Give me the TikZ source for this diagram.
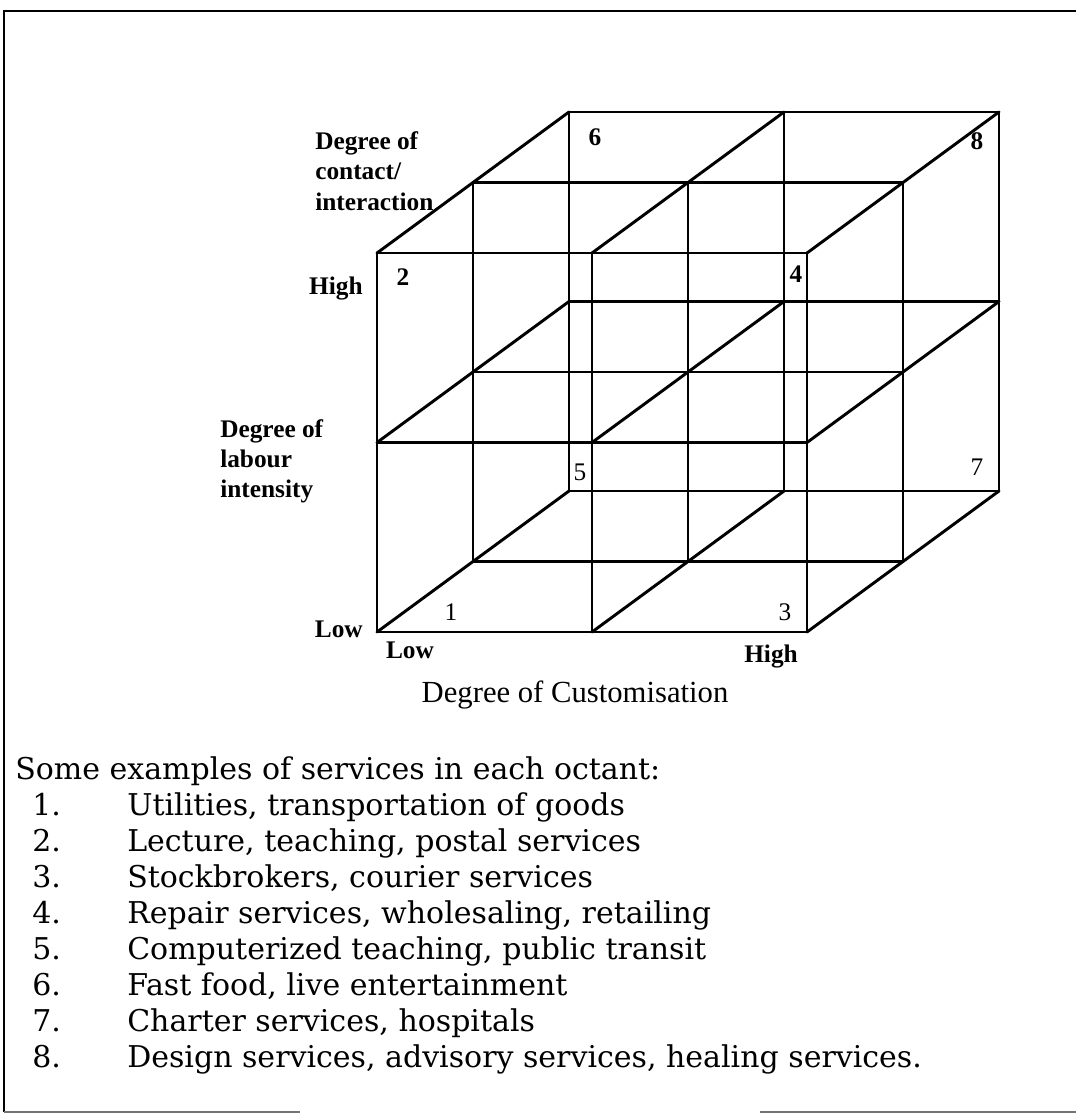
\documentclass[tikz,border=0pt]{standalone}
\usepackage{fontspec}
\setmainfont{Liberation Serif}
\newfontfamily\listfont{DejaVu Serif}
\begin{document}
\begin{tikzpicture}[x=0.75pt,y=-0.75pt,
  cubeline/.style={line width=2.2pt, line cap=round},
  framel/.style={line width=1.5pt},
  framefaint/.style={line width=1.2pt, black!55},
  axlbl/.style={font=\fontsize{19}{23}\selectfont\bfseries, inner sep=0pt},
  octb/.style={font=\fontsize{19}{23}\selectfont\bfseries, inner sep=0pt, anchor=base},
  octr/.style={font=\fontsize{19}{23}\selectfont, inner sep=0pt, anchor=base},
  custlbl/.style={font=\fontsize{23}{28}\selectfont, inner sep=0pt, anchor=base},
  listtxt/.style={font=\listfont\fontsize{22.5}{27}\selectfont, inner sep=0pt, anchor=base west},
]
\useasboundingbox (0,0) rectangle (1076,1119);

% frame
\coordinate (fbl) at (4,1112);
\coordinate (ftl) at (4,11);
\coordinate (ftr) at (1076,11);
\coordinate (fb1) at (300,1112);
\coordinate (fb2) at (760,1112);
\coordinate (fbr) at (1076,1112);
\draw[framel] (fbl) -- (ftl) -- (ftr);
\draw[framefaint] (fbl) -- (fb1);
\draw[framefaint] (fb2) -- (fbr);

% lattice points of the cube
\foreach \i in {0,1,2}{\foreach \j in {0,1,2}{\foreach \k in {0,1,2}{
  \coordinate (p\i\j\k) at ({377+215*\i+96*\k},{632-189.5*\j-70.5*\k});
}}}
% wireframe
\foreach \a in {0,1,2}{\foreach \b in {0,1,2}{
  \draw[cubeline] (p0\a\b) -- (p2\a\b);
  \draw[cubeline] (p\a0\b) -- (p\a2\b);
  \draw[cubeline] (p\a\b0) -- (p\a\b2);
}}

% axis labels
\node[axlbl, anchor=base west] (lc1) at (315,150) {Degree of};
\node[axlbl, anchor=base west] (lc2) at (315,180) {contact/};
\node[axlbl, anchor=base west] (lc3) at (315,211) {interaction};
\node[axlbl, anchor=base west] (ll1) at (220,437) {Degree of};
\node[axlbl, anchor=base west] (ll2) at (220,467) {labour};
\node[axlbl, anchor=base west] (ll3) at (220,497) {intensity};
\node[axlbl, anchor=base east] (hiy) at (363,295) {High};
\node[axlbl, anchor=base east] (loy) at (363,637) {Low};
\node[axlbl, anchor=base] (lox) at (410,658) {Low};
\node[axlbl, anchor=base] (hix) at (771,662) {High};
\node[custlbl] (cust) at (575,702) {Degree of Customisation};

% octant numbers
\node[octb] (o2) at (403,286) {2};
\node[octb] (o6) at (595,146) {6};
\node[octb] (o8) at (977,150) {8};
\node[octb] (o4) at (796,283) {4};
\node[octr] (o5) at (580,480) {5};
\node[octr] (o1) at (451,620) {1};
\node[octr] (o7) at (977,475) {7};
\node[octr] (o3) at (785,620) {3};

% list
\node[listtxt] (hdr) at (15,779) {Some examples of services in each octant:};
\node[listtxt] (n1) at (32,815) {1.};
\node[listtxt] (t1) at (127,815) {Utilities, transportation of goods};
\node[listtxt] (n2) at (32,851) {2.};
\node[listtxt] (t2) at (127,851) {Lecture, teaching, postal services};
\node[listtxt] (n3) at (32,887) {3.};
\node[listtxt] (t3) at (127,887) {Stockbrokers, courier services};
\node[listtxt] (n4) at (32,923) {4.};
\node[listtxt] (t4) at (127,923) {Repair services, wholesaling, retailing};
\node[listtxt] (n5) at (32,959) {5.};
\node[listtxt] (t5) at (127,959) {Computerized teaching, public transit};
\node[listtxt] (n6) at (32,995) {6.};
\node[listtxt] (t6) at (127,995) {Fast food, live entertainment};
\node[listtxt] (n7) at (32,1031) {7.};
\node[listtxt] (t7) at (127,1031) {Charter services, hospitals};
\node[listtxt] (n8) at (32,1067) {8.};
\node[listtxt] (t8) at (127,1067) {Design services, advisory services, healing services.};
\end{tikzpicture}
\end{document}
